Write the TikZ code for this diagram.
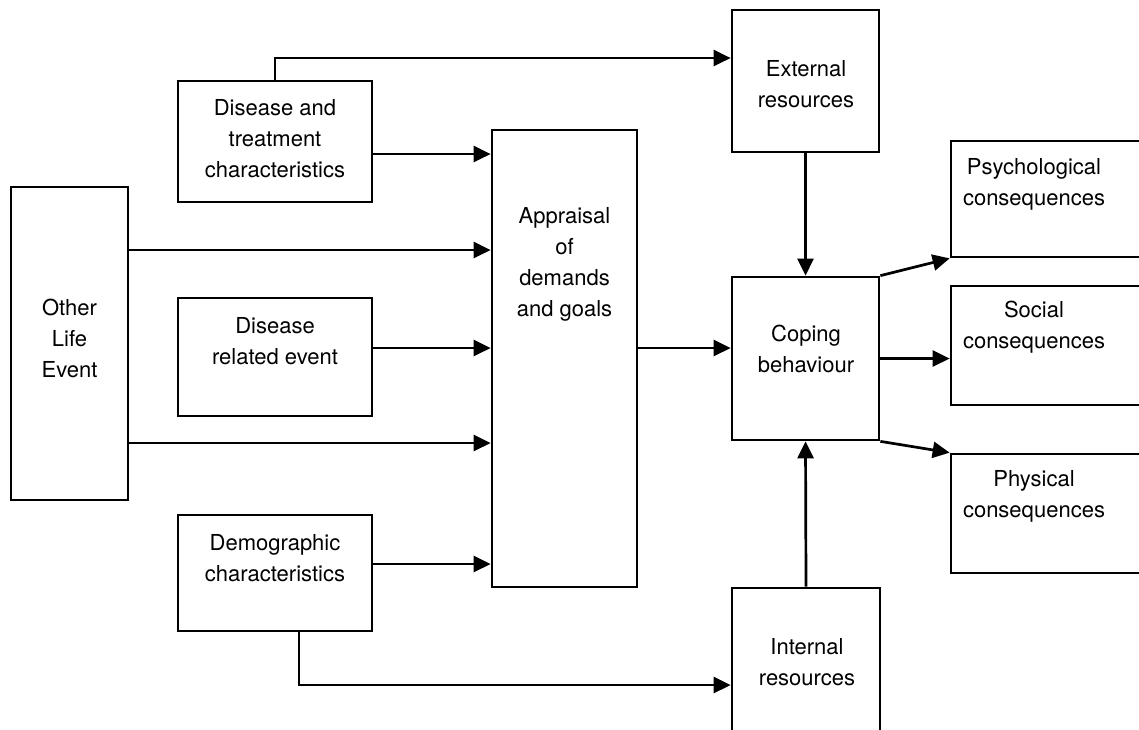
\documentclass[tikz,border=0pt]{standalone}
\usepackage{fontspec}
\setmainfont{TeX Gyre Heros}
\usetikzlibrary{arrows.meta}

\begin{document}
\begin{tikzpicture}[x=1pt, y=-1pt, line width=2.7pt,
    box/.style={draw, inner sep=0pt},
    lbl/.style={align=center, inner sep=0pt, font=\fontsize{22}{31}\selectfont},
    arr/.style={-{Triangle[length=17pt, width=16pt]}}]
  \useasboundingbox (0,0) rectangle (1139,729);
  \clip (0,0) rectangle (1139,729);

  % boxes
  \node[box, minimum width=117pt, minimum height=313pt] (ole) at (69.5,343.5) {};
  \node[box, minimum width=194pt, minimum height=121pt] (dtc) at (275,141.5) {};
  \node[box, minimum width=194pt, minimum height=118pt] (dre) at (275,357) {};
  \node[box, minimum width=194pt, minimum height=116pt] (dem) at (275,573) {};
  \node[box, minimum width=145pt, minimum height=457pt] (app) at (564.5,358.5) {};
  \node[box, minimum width=147pt, minimum height=142pt] (ext) at (805.5,81) {};
  \node[box, minimum width=147pt, minimum height=163pt] (cop) at (805.5,358.5) {};
  \node[box, minimum width=148pt, minimum height=172pt] (int) at (806,674) {};
  \node[box, minimum width=219pt, minimum height=116pt] (psy) at (1060.5,199) {};
  \node[box, minimum width=219pt, minimum height=119pt] (soc) at (1060.5,345.5) {};
  \node[box, minimum width=219pt, minimum height=119pt] (phy) at (1060.5,513.5) {};

  % texts
  \node[lbl] (ole-t) at (69.5,338) {Other\\Life\\Event};
  \node[lbl] (dtc-t) at (275,139) {Disease and\\treatment\\characteristics};
  \node[lbl] (dre-t) at (275,341) {Disease\\related event};
  \node[lbl] (dem-t) at (275,558) {Demographic\\characteristics};
  \node[lbl] (app-t) at (564.5,264) {Appraisal\\of\\demands\\and goals};
  \node[lbl] (ext-t) at (806,84) {External\\resources};
  \node[lbl] (cop-t) at (806,348.5) {Coping\\behaviour};
  \node[lbl] (int-t) at (807,662) {Internal\\resources};
  \node[lbl] (psy-t) at (1034,184) {Psychological\\consequences};
  \node[lbl] (soc-t) at (1034,327.5) {Social\\consequences};
  \node[lbl] (phy-t) at (1034,496) {Physical\\consequences};

  % connectors
  \draw[arr] (dtc.north) |- (ext.west |- 0,58);
  \draw[arr] (dtc.east |- 0,154) -- (app.west |- 0,154);
  \draw[arr] (ole.east |- 0,250) -- (app.west |- 0,250);
  \draw[arr] (dre.east |- 0,348) -- (app.west |- 0,348);
  \draw[arr] (ole.east |- 0,443) -- (app.west |- 0,443);
  \draw[arr] (dem.east |- 0,564) -- (app.west |- 0,564);
  \draw[arr] (app.east |- 0,348) -- (cop.west |- 0,348);
  \draw[arr] (ext.south) -- (cop.north);
  \draw[arr] (int.north) -- (cop.south);
  \draw[arr] (dem.south -| 299,0) |- (int.west |- 0,685);
  \draw[arr] (cop.north east) -- (psy.south west);
  \draw[arr] (cop.east) -- (soc.west |- cop.east);
  \draw[arr] (cop.south east) -- (phy.north west);
\end{tikzpicture}
\end{document}
